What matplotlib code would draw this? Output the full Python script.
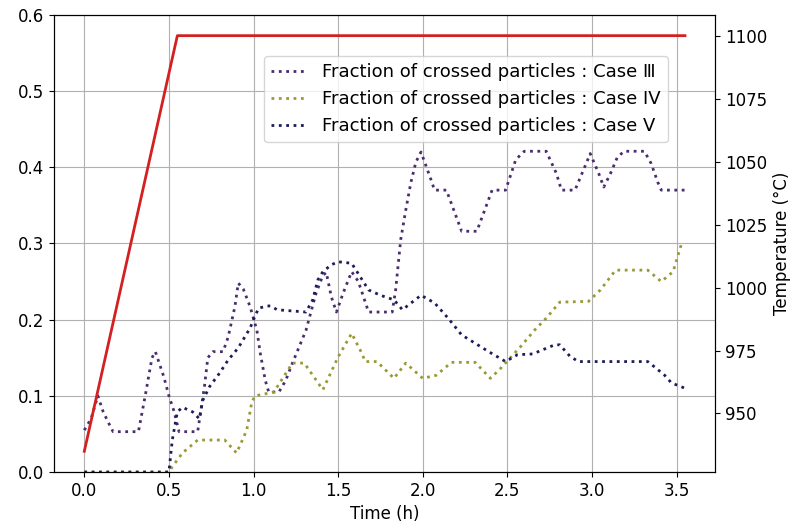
import matplotlib
matplotlib.use('Agg')
import matplotlib.pyplot as plt

# time (h) and fraction of crossed particles
t_case3 = [0.00, 0.04, 0.08, 0.11, 0.14, 0.17, 0.32, 0.36, 0.40, 0.42, 0.47, 0.50,
           0.53, 0.56, 0.67, 0.71, 0.73, 0.76, 0.82, 0.85, 0.89, 0.91, 0.94, 0.98,
           1.02, 1.04, 1.07, 1.09, 1.15, 1.19, 1.23, 1.31, 1.37, 1.41, 1.43, 1.46,
           1.49, 1.53, 1.58, 1.62, 1.68, 1.82, 1.84, 1.87, 1.90, 1.93, 1.96, 1.99,
           2.05, 2.07, 2.14, 2.23, 2.32, 2.41, 2.49, 2.55, 2.60, 2.73, 2.79, 2.82,
           2.90, 2.97, 2.99, 3.04, 3.07, 3.11, 3.15, 3.19, 3.31, 3.35, 3.39, 3.41, 3.55]
case3 = [0.055, 0.070, 0.100, 0.080, 0.066, 0.053, 0.053, 0.100, 0.150, 0.158, 0.125, 0.100,
         0.080, 0.053, 0.053, 0.112, 0.150, 0.158, 0.158, 0.177, 0.217, 0.248, 0.240, 0.217,
         0.186, 0.156, 0.120, 0.105, 0.105, 0.120, 0.143, 0.186, 0.235, 0.258, 0.262, 0.230,
         0.210, 0.235, 0.263, 0.250, 0.210, 0.210, 0.239, 0.305, 0.344, 0.380, 0.407, 0.420,
         0.383, 0.370, 0.370, 0.316, 0.316, 0.370, 0.370, 0.410, 0.421, 0.421, 0.392, 0.370,
         0.370, 0.407, 0.418, 0.392, 0.374, 0.392, 0.413, 0.421, 0.421, 0.405, 0.380, 0.370, 0.370]

t_case4 = [0.00, 0.50, 0.52, 0.58, 0.67, 0.83, 0.90, 0.96, 0.99, 1.01, 1.12, 1.23,
           1.30, 1.41, 1.50, 1.58, 1.64, 1.66, 1.73, 1.83, 1.90, 2.00, 2.08, 2.17,
           2.31, 2.40, 2.46, 2.58, 2.66, 2.73, 2.81, 2.98, 3.05, 3.14, 3.33, 3.41,
           3.48, 3.53]
case4 = [0.000, 0.000, 0.007, 0.025, 0.042, 0.042, 0.025, 0.055, 0.092, 0.100, 0.105, 0.143,
         0.143, 0.108, 0.151, 0.182, 0.156, 0.145, 0.145, 0.123, 0.143, 0.123, 0.127, 0.144,
         0.144, 0.123, 0.136, 0.165, 0.186, 0.202, 0.223, 0.224, 0.239, 0.265, 0.265, 0.250,
         0.263, 0.300]

t_case5 = [0.00, 0.50, 0.52, 0.55, 0.58, 0.64, 0.68, 0.70, 0.74, 0.80, 0.85, 0.91,
           0.98, 1.00, 1.03, 1.08, 1.10, 1.14, 1.31, 1.35, 1.38, 1.41, 1.46, 1.50,
           1.58, 1.68, 1.75, 1.83, 1.88, 1.99, 2.07, 2.15, 2.23, 2.31, 2.39, 2.49,
           2.56, 2.65, 2.78, 2.81, 2.87, 2.92, 3.33, 3.37, 3.43, 3.47, 3.55]
case5 = [0.000, 0.000, 0.042, 0.079, 0.085, 0.079, 0.070, 0.094, 0.112, 0.130, 0.147, 0.163,
         0.189, 0.200, 0.215, 0.218, 0.218, 0.213, 0.210, 0.226, 0.252, 0.263, 0.272, 0.276,
         0.274, 0.239, 0.232, 0.226, 0.213, 0.232, 0.222, 0.202, 0.180, 0.169, 0.158, 0.145,
         0.154, 0.155, 0.167, 0.167, 0.152, 0.145, 0.145, 0.138, 0.127, 0.117, 0.110]

# furnace temperature
t_temp = [0.0, 0.55, 3.55]
temp = [935, 1100, 1100]

fig = plt.figure(figsize=(7.98, 5.31), dpi=100)
ax = fig.add_axes([0.068, 0.111, 0.828, 0.861])

ax.plot(t_case3, case3, linestyle=':', linewidth=2, color='#4a2d6e',
        label='Fraction of crossed particles : Case \u2162')
ax.plot(t_case4, case4, linestyle=':', linewidth=2, color='#9a9a35',
        label='Fraction of crossed particles : Case IV')
ax.plot(t_case5, case5, linestyle=':', linewidth=2, color='#1c1c58',
        label='Fraction of crossed particles : Case V')
ax.set_ylim(0, 0.6)
ax.set_xlabel('Time (h)', fontsize=12)
ax.tick_params(labelsize=12)
ax.grid(True)
ax.legend(loc='upper right', bbox_to_anchor=(0.942, 0.93), fontsize=13)

ax2 = ax.twinx()
ax2.plot(t_temp, temp, color='#d42020', linewidth=2)
ax2.set_ylabel('Temperature (°C)', fontsize=12)
ax2.tick_params(labelsize=12)

fig.savefig('out.png', dpi=100)
